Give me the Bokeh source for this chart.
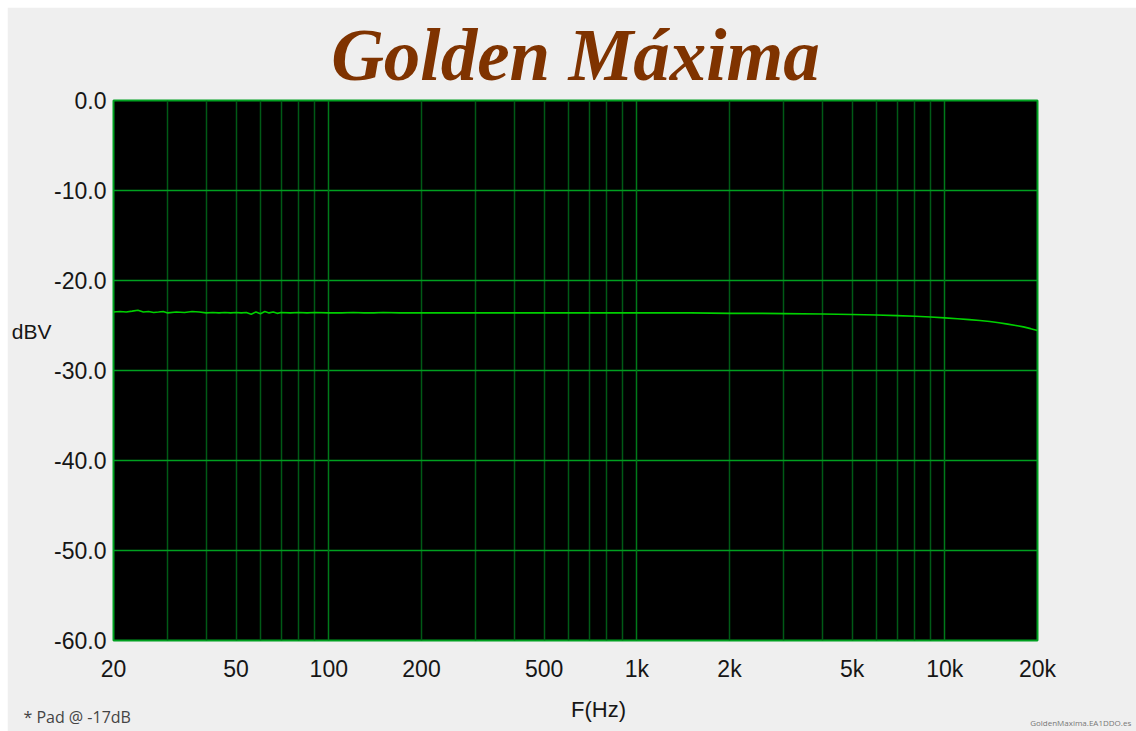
from bokeh.plotting import figure
from bokeh.models import Range1d, FixedTicker, Label, Grid, LinearAxis
from bokeh.embed import file_html
from bokeh.resources import INLINE

# Data
freq_hz = [20, 21, 22, 23, 24, 25, 26, 27, 28, 29, 30, 32, 34, 36, 38, 40, 42, 44, 46, 48,
           50, 52, 54, 56, 58, 60, 62, 64, 66, 68, 70, 75, 80, 85, 90, 100, 110, 120, 130,
           140, 150, 170, 200, 250, 300, 400, 500, 700, 1000, 1500, 2000, 2500, 3000, 4000,
           5000, 6000, 7000, 8000, 9000, 10000, 11000, 12000, 13000, 14000, 15000, 16000,
           17000, 18000, 19000, 20000]
level_dbv = [-23.5, -23.45, -23.5, -23.4, -23.3, -23.5, -23.45, -23.55, -23.5, -23.45,
             -23.6, -23.5, -23.55, -23.45, -23.5, -23.6, -23.55, -23.6, -23.55, -23.6,
             -23.55, -23.6, -23.55, -23.75, -23.5, -23.7, -23.45, -23.6, -23.5, -23.65,
             -23.55, -23.6, -23.55, -23.6, -23.55, -23.6, -23.6, -23.55, -23.6, -23.6,
             -23.55, -23.6, -23.6, -23.6, -23.6, -23.6, -23.6, -23.6, -23.6, -23.6,
             -23.65, -23.65, -23.68, -23.72, -23.78, -23.84, -23.9, -23.98, -24.06, -24.15,
             -24.25, -24.35, -24.45, -24.55, -24.7, -24.85, -25.0, -25.15, -25.35, -25.55]

x_tick_values = [20, 50, 100, 200, 500, 1000, 2000, 5000, 10000, 20000]
x_tick_labels = ["20", "50", "100", "200", "500", "1k", "2k", "5k", "10k", "20k"]
y_tick_values = [0, -10, -20, -30, -40, -50, -60]
minor_grid = [30, 40, 50, 60, 70, 80, 90, 200, 300, 400, 500, 600, 700, 800, 900,
              2000, 3000, 4000, 5000, 6000, 7000, 8000, 9000]
decade_grid = [100, 1000, 10000]

p = figure(width=1129, height=724, x_axis_type="log",
           x_range=Range1d(20, 20000), y_range=Range1d(-60, 0),
           output_backend="svg", toolbar_location=None, margin=(7, 0, 0, 7),
           min_border_left=106, min_border_right=99, min_border_top=93, min_border_bottom=91)

p.background_fill_color = "black"
p.border_fill_color = "#efefef"
p.outline_line_color = "#00a020"
p.outline_line_width = 2

# title
p.title.text = "Golden Máxima"
p.title.align = "center"
p.title.text_font = "Liberation Serif"
p.title.text_font_style = "bold italic"
p.title.text_font_size = "73px"
p.title.text_color = "#7f3300"
p.title.standoff = 9

TXT = "#161616"

def style_axis(ax, size="23px"):
    ax.axis_line_color = None
    ax.major_tick_line_color = None
    ax.minor_tick_line_color = None
    ax.major_tick_out = 0
    ax.major_tick_in = 0
    ax.minor_tick_out = 0
    ax.minor_tick_in = 0
    ax.major_label_text_font = "Liberation Sans"
    ax.major_label_text_font_size = size
    ax.major_label_text_color = TXT

# main axes
p.xaxis.ticker = FixedTicker(ticks=x_tick_values)
p.xaxis.major_label_overrides = {v: l for v, l in zip(x_tick_values, x_tick_labels)}
p.yaxis.ticker = FixedTicker(ticks=y_tick_values)
p.yaxis.major_label_overrides = {v: f"{v:.1f}" for v in y_tick_values}
style_axis(p.xaxis[0])
style_axis(p.yaxis[0])
p.xaxis.major_label_standoff = 15
p.yaxis.major_label_standoff = 7

# y axis title as a single-tick axis (horizontal text left of the tick labels)
dbv_pos = -25.7
ylab_axis = LinearAxis(ticker=FixedTicker(ticks=[dbv_pos]),
                       major_label_overrides={dbv_pos: "dBV"})
style_axis(ylab_axis, "21px")
ylab_axis.major_label_standoff = 0
p.add_layout(ylab_axis, "left")

# grids
p.xgrid.ticker = FixedTicker(ticks=minor_grid)
p.xgrid.grid_line_color = "#005a16"
p.xgrid.grid_line_width = 1.5
p.ygrid.ticker = FixedTicker(ticks=y_tick_values)
p.ygrid.grid_line_color = "#00a020"
p.ygrid.grid_line_width = 1.5
p.add_layout(Grid(dimension=0, ticker=FixedTicker(ticks=decade_grid),
                  grid_line_color="#007a1a", grid_line_width=1.5))

p.line(freq_hz, level_dbv, line_color="#00d000", line_width=1.6)

# x axis title and footnotes, held in side panels so they are not clipped to the frame
p.add_layout(Label(x=751, y=-67.67, text="F(Hz)", text_font="Liberation Sans",
                   text_font_size="22px", text_color=TXT,
                   text_align="center", text_baseline="middle"), "right")
p.add_layout(Label(x=10.2, y=-68.45, text="* Pad @ -17dB", text_font="Open Sans",
                   text_font_size="16px", text_color="#444444",
                   text_align="left", text_baseline="middle"), "below")
p.add_layout(Label(x=40300, y=-69.1, text="GoldenMaxima.EA1DDO.es", text_font="Open Sans",
                   text_font_size="8px", text_color="#777777",
                   text_align="right", text_baseline="middle"), "below")

open("out.html", "w").write(file_html(p, INLINE))
